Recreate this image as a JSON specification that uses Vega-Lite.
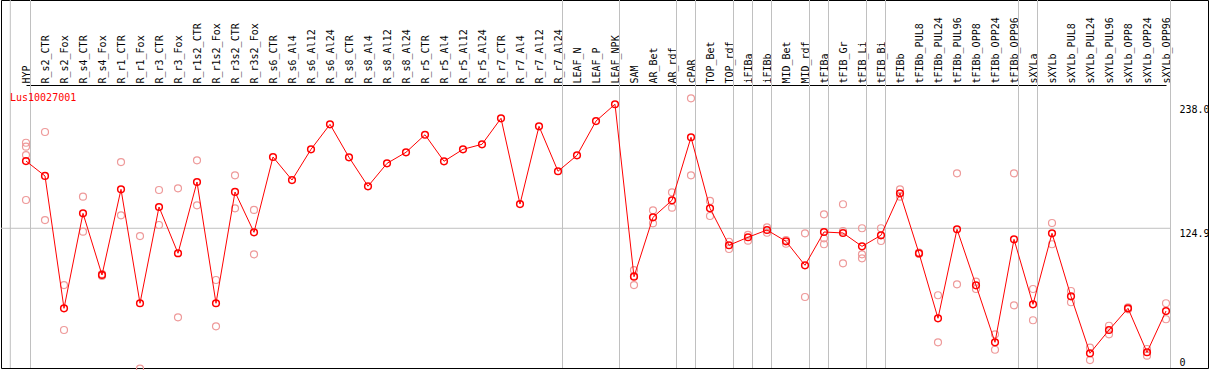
{
  "$schema": "https://vega.github.io/schema/vega-lite/v6.json",
  "autosize": {"type": "none"},
  "padding": {"left": 1, "top": 0, "right": 1, "bottom": 2},
  "width": 1207,
  "height": 368,
  "config": {"view": {"stroke": "black", "strokeWidth": 1}, "font": "DejaVu Sans Mono"},
  "datasets": {
    "means": [
      {"name": "HYP", "value": 186.2}, {"name": "R_s2_CTR", "value": 172.6}, {"name": "R_s2_Fox", "value": 51.9},
      {"name": "R_s4_CTR", "value": 138.5}, {"name": "R_s4_Fox", "value": 82.3}, {"name": "R_r1_CTR", "value": 160.4},
      {"name": "R_r1_Fox", "value": 56.5}, {"name": "R_r3_CTR", "value": 144.3}, {"name": "R_r3_Fox", "value": 102.1},
      {"name": "R_r1s2_CTR", "value": 167.1}, {"name": "R_r1s2_Fox", "value": 56.5}, {"name": "R_r3s2_CTR", "value": 158.0},
      {"name": "R_r3s2_Fox", "value": 121.2}, {"name": "R_s6_CTR", "value": 189.9}, {"name": "R_s6_Al4", "value": 168.9},
      {"name": "R_s6_Al12", "value": 196.9}, {"name": "R_s6_Al24", "value": 219.7}, {"name": "R_s8_CTR", "value": 189.6},
      {"name": "R_s8_Al4", "value": 163.2}, {"name": "R_s8_Al12", "value": 184.1}, {"name": "R_s8_Al24", "value": 194.2},
      {"name": "R_r5_CTR", "value": 210.2}, {"name": "R_r5_Al4", "value": 186.0}, {"name": "R_r5_Al12", "value": 196.9},
      {"name": "R_r5_Al24", "value": 201.5}, {"name": "R_r7_CTR", "value": 225.2}, {"name": "R_r7_Al4", "value": 147.0},
      {"name": "R_r7_Al12", "value": 217.9}, {"name": "R_r7_Al24", "value": 176.9}, {"name": "LEAF_N", "value": 191.4},
      {"name": "LEAF_P", "value": 222.7}, {"name": "LEAF_NPK", "value": 238.0}, {"name": "SAM", "value": 80.7},
      {"name": "AR_Bet", "value": 134.9}, {"name": "AR_rdf", "value": 150.4}, {"name": "cPAR", "value": 207.9},
      {"name": "TOP_Bet", "value": 143.1}, {"name": "TOP_rdf", "value": 109.4}, {"name": "iFIBa", "value": 116.7},
      {"name": "iFIBb", "value": 123.3}, {"name": "MID_Bet", "value": 113.0}, {"name": "MID_rdf", "value": 91.1},
      {"name": "tFIBa", "value": 121.5}, {"name": "tFIB_Gr", "value": 120.6}, {"name": "tFIB_Li", "value": 108.4},
      {"name": "tFIB_Bi", "value": 118.5}, {"name": "tFIBb", "value": 156.8}, {"name": "tFIBb_PUL8", "value": 102.1},
      {"name": "tFIBb_PUL24", "value": 42.8}, {"name": "tFIBb_PUL96", "value": 124.0}, {"name": "tFIBb_OPP8", "value": 72.9},
      {"name": "tFIBb_OPP24", "value": 20.9}, {"name": "tFIBb_OPP96", "value": 114.8}, {"name": "sXYLa", "value": 55.5},
      {"name": "sXYLb", "value": 120.3}, {"name": "sXYLb_PUL8", "value": 62.8}, {"name": "sXYLb_PUL24", "value": 10.9},
      {"name": "sXYLb_PUL96", "value": 32.1}, {"name": "sXYLb_OPP8", "value": 51.9}, {"name": "sXYLb_OPP24", "value": 11.8},
      {"name": "sXYLb_OPP96", "value": 49.4}
    ],
    "reps": [
      {"name": "HYP", "value": 202.9}, {"name": "HYP", "value": 199.3}, {"name": "HYP", "value": 191.7}, {"name": "HYP", "value": 150.7},
      {"name": "R_s2_CTR", "value": 212.7}, {"name": "R_s2_CTR", "value": 132.4},
      {"name": "R_s2_Fox", "value": 73.1}, {"name": "R_s2_Fox", "value": 32.1},
      {"name": "R_s4_CTR", "value": 153.7}, {"name": "R_s4_CTR", "value": 121.8},
      {"name": "R_s4_Fox", "value": 83.2}, {"name": "R_s4_Fox", "value": 81.4},
      {"name": "R_r1_CTR", "value": 185.3}, {"name": "R_r1_CTR", "value": 136.7},
      {"name": "R_r1_Fox", "value": 117.8}, {"name": "R_r1_Fox", "value": -3.2},
      {"name": "R_r3_CTR", "value": 159.8}, {"name": "R_r3_CTR", "value": 127.9},
      {"name": "R_r3_Fox", "value": 161.3}, {"name": "R_r3_Fox", "value": 43.7},
      {"name": "R_r1s2_CTR", "value": 186.9}, {"name": "R_r1s2_CTR", "value": 145.8},
      {"name": "R_r1s2_Fox", "value": 77.7}, {"name": "R_r1s2_Fox", "value": 35.5},
      {"name": "R_r3s2_CTR", "value": 173.2}, {"name": "R_r3s2_CTR", "value": 143.1},
      {"name": "R_r3s2_Fox", "value": 141.6}, {"name": "R_r3s2_Fox", "value": 101.1},
      {"name": "SAM", "value": 86.8}, {"name": "SAM", "value": 81.4}, {"name": "SAM", "value": 73.1},
      {"name": "AR_Bet", "value": 141.3}, {"name": "AR_Bet", "value": 129.4},
      {"name": "AR_rdf", "value": 157.7}, {"name": "AR_rdf", "value": 143.7},
      {"name": "cPAR", "value": 243.4}, {"name": "cPAR", "value": 173.2},
      {"name": "TOP_Bet", "value": 149.8}, {"name": "TOP_Bet", "value": 136.1},
      {"name": "TOP_rdf", "value": 112.6}, {"name": "TOP_rdf", "value": 106.0},
      {"name": "iFIBa", "value": 118.8}, {"name": "iFIBa", "value": 113.6},
      {"name": "iFIBb", "value": 125.8}, {"name": "iFIBb", "value": 120.8},
      {"name": "MID_Bet", "value": 114.2}, {"name": "MID_Bet", "value": 110.8},
      {"name": "MID_rdf", "value": 120.3}, {"name": "MID_rdf", "value": 62.2},
      {"name": "tFIBa", "value": 137.6}, {"name": "tFIBa", "value": 115.7}, {"name": "tFIBa", "value": 110.3},
      {"name": "tFIB_Gr", "value": 146.8}, {"name": "tFIB_Gr", "value": 122.4}, {"name": "tFIB_Gr", "value": 92.9},
      {"name": "tFIB_Li", "value": 124.9}, {"name": "tFIB_Li", "value": 101.1}, {"name": "tFIB_Li", "value": 97.5},
      {"name": "tFIB_Bi", "value": 124.9}, {"name": "tFIB_Bi", "value": 113.3},
      {"name": "tFIBb", "value": 160.4}, {"name": "tFIBb", "value": 153.7},
      {"name": "tFIBb_PUL8", "value": 102.7}, {"name": "tFIBb_PUL8", "value": 101.5},
      {"name": "tFIBb_PUL24", "value": 63.8}, {"name": "tFIBb_PUL24", "value": 20.9},
      {"name": "tFIBb_PUL96", "value": 175.0}, {"name": "tFIBb_PUL96", "value": 73.8},
      {"name": "tFIBb_OPP8", "value": 76.2}, {"name": "tFIBb_OPP8", "value": 69.5},
      {"name": "tFIBb_OPP24", "value": 28.2}, {"name": "tFIBb_OPP24", "value": 14.1},
      {"name": "tFIBb_OPP96", "value": 175.0}, {"name": "tFIBb_OPP96", "value": 54.6},
      {"name": "sXYLa", "value": 69.5}, {"name": "sXYLa", "value": 41.0},
      {"name": "sXYLb", "value": 129.7}, {"name": "sXYLb", "value": 110.3},
      {"name": "sXYLb_PUL8", "value": 67.7}, {"name": "sXYLb_PUL8", "value": 57.4},
      {"name": "sXYLb_PUL24", "value": 16.0}, {"name": "sXYLb_PUL24", "value": 4.7},
      {"name": "sXYLb_PUL96", "value": 36.0}, {"name": "sXYLb_PUL96", "value": 28.2},
      {"name": "sXYLb_OPP8", "value": 52.8}, {"name": "sXYLb_OPP8", "value": 51.0},
      {"name": "sXYLb_OPP24", "value": 14.8}, {"name": "sXYLb_OPP24", "value": 8.7},
      {"name": "sXYLb_OPP96", "value": 56.5}, {"name": "sXYLb_OPP96", "value": 41.9}
    ],
    "seps": [
      {"name": "HYP"}, {"name": "R_r7_Al24"}, {"name": "LEAF_NPK"}, {"name": "AR_rdf"}, {"name": "cPAR"},
      {"name": "TOP_rdf"}, {"name": "iFIBa"}, {"name": "iFIBb"}, {"name": "MID_rdf"}, {"name": "tFIBa"},
      {"name": "tFIB_Li"}, {"name": "tFIB_Bi"}, {"name": "tFIBb_OPP96"}, {"name": "sXYLa"}, {"name": "sXYLb_OPP96"}
    ],
    "lead": [{"name": "HYP"}],
    "refline": [{"name": "HYP", "end": "sXYLb_OPP96", "value": 124.9}],
    "gene": [{"name": "HYP", "value": 241.0, "label": "Lus10027001"}]
  },
  "layer": [
    {
      "data": {"name": "seps"},
      "mark": {"type": "rule", "color": "#c0c0c0", "strokeWidth": 1, "xOffset": 4.5},
      "encoding": {"x": {"field": "name", "type": "nominal", "axis": {"title": null}}}
    },
    {
      "data": {"name": "lead"},
      "mark": {"type": "rule", "color": "#c0c0c0", "strokeWidth": 1, "xOffset": -15.7},
      "encoding": {"x": {"field": "name", "type": "nominal", "axis": {"title": null}}}
    },
    {
      "data": {"name": "refline"},
      "mark": {"type": "rule", "color": "#c0c0c0", "strokeWidth": 1, "xOffset": -25, "x2Offset": 4.5},
      "encoding": {
        "x": {"field": "name", "type": "nominal", "axis": {"title": null}},
        "x2": {"field": "end"},
        "y": {"field": "value", "type": "quantitative", "axis": {"title": null}}
      }
    },
    {
      "data": {"name": "reps"},
      "mark": {"type": "point", "shape": "circle", "filled": false, "stroke": "#ee9a9a", "strokeWidth": 1.2, "size": 49, "opacity": 1},
      "encoding": {
        "x": {"field": "name", "type": "nominal", "axis": {"title": null}},
        "y": {"field": "value", "type": "quantitative", "axis": {"title": null}}
      }
    },
    {
      "data": {"name": "means"},
      "mark": {"type": "line", "color": "#ff0000", "strokeWidth": 1},
      "encoding": {
        "x": {
          "field": "name", "type": "nominal",
          "scale": {
            "type": "point", "padding": 0, "range": [25, 1165],
            "domain": ["HYP","R_s2_CTR","R_s2_Fox","R_s4_CTR","R_s4_Fox","R_r1_CTR","R_r1_Fox","R_r3_CTR","R_r3_Fox","R_r1s2_CTR","R_r1s2_Fox","R_r3s2_CTR","R_r3s2_Fox","R_s6_CTR","R_s6_Al4","R_s6_Al12","R_s6_Al24","R_s8_CTR","R_s8_Al4","R_s8_Al12","R_s8_Al24","R_r5_CTR","R_r5_Al4","R_r5_Al12","R_r5_Al24","R_r7_CTR","R_r7_Al4","R_r7_Al12","R_r7_Al24","LEAF_N","LEAF_P","LEAF_NPK","SAM","AR_Bet","AR_rdf","cPAR","TOP_Bet","TOP_rdf","iFIBa","iFIBb","MID_Bet","MID_rdf","tFIBa","tFIB_Gr","tFIB_Li","tFIB_Bi","tFIBb","tFIBb_PUL8","tFIBb_PUL24","tFIBb_PUL96","tFIBb_OPP8","tFIBb_OPP24","tFIBb_OPP96","sXYLa","sXYLb","sXYLb_PUL8","sXYLb_PUL24","sXYLb_PUL96","sXYLb_OPP8","sXYLb_OPP24","sXYLb_OPP96"]
          },
          "axis": {
            "orient": "top", "offset": -85, "title": null, "grid": false, "ticks": false,
            "domainColor": "black", "domainWidth": 1, "labelAngle": -90, "labelAlign": "left", "labelBaseline": "middle",
            "labelPadding": 2, "labelFont": "DejaVu Sans Mono", "labelFontSize": 10, "labelColor": "black",
            "labelOverlap": false, "labelBound": false, "labelLimit": 200, "labelFlush": false
          }
        },
        "y": {
          "field": "value", "type": "quantitative",
          "scale": {"domain": [-2.55, 333.1], "nice": false, "zero": false},
          "axis": {
            "orient": "right", "offset": -30, "title": null, "grid": false, "ticks": false, "domain": false,
            "values": [0, 124.9, 238.0],
            "labelExpr": "datum.value == 0 ? '0' : format(datum.value, '.1f')",
            "labelAlign": "left",
            "labelBaseline": {"condition": {"test": "datum.value == 0", "value": "alphabetic"}, "value": "top"},
            "labelPadding": 1, "labelFont": "DejaVu Sans Mono", "labelFontSize": 10, "labelColor": "black",
            "labelFlush": false, "labelOverlap": false, "labelBound": false
          }
        },
        "order": {"value": null}
      }
    },
    {
      "data": {"name": "means"},
      "mark": {"type": "point", "shape": "circle", "filled": false, "stroke": "#ff0000", "strokeWidth": 1.5, "size": 45, "opacity": 1},
      "encoding": {
        "x": {"field": "name", "type": "nominal", "axis": {"title": null}},
        "y": {"field": "value", "type": "quantitative", "axis": {"title": null}}
      }
    },
    {
      "data": {"name": "gene"},
      "mark": {"type": "text", "color": "#ff0000", "font": "DejaVu Sans Mono", "fontSize": 10, "align": "left", "baseline": "alphabetic", "xOffset": -16},
      "encoding": {
        "x": {"field": "name", "type": "nominal", "axis": {"title": null}},
        "y": {"field": "value", "type": "quantitative", "axis": {"title": null}},
        "text": {"field": "label", "type": "nominal"}
      }
    }
  ]
}
